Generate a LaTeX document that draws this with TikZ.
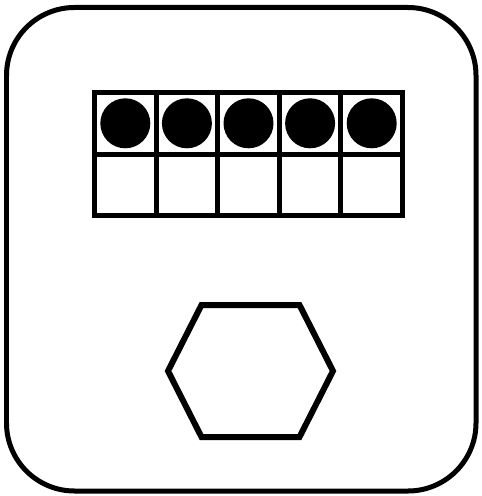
\documentclass[tikz,border=0pt]{standalone}
\usepackage{tikz}
\usetikzlibrary{
	positioning
}

\tikzset{
	cell/.style={
		draw,
		line width=0.1cm,
		minimum size=1.232cm,
		inner sep=0pt,
		outer sep=0pt
	},
	counter/.style={
		circle,
		fill=black,
		minimum size=1cm,
		inner sep=0pt
	}
}

\begin{document}
\begin{tikzpicture}[x=0.02cm,y=-0.02cm]
	
	\useasboundingbox (0,0) rectangle (481,496);
	
	% card
	\draw[
	line width=0.1cm,
	rounded corners=1.36cm
	] (6.5,7.5) rectangle (476,491);
	
	% ten frame, five counters on top row
	\foreach \i in {0,...,4}{
		\node[cell] (top\i) at (125.3+61.6*\i,123.3) {};
		\node[cell, below=0pt of top\i] (bot\i) {};
		\node[counter] (dot\i) at (top\i) {};
	}
	
	% hexagon
	\draw[
	line width=0.12cm,
	line join=miter
	] (168,371) -- (201.5,305) -- (299.5,305) -- (333,371)
	-- (299.5,437) -- (201.5,437) -- cycle;
	
\end{tikzpicture}
\end{document}
